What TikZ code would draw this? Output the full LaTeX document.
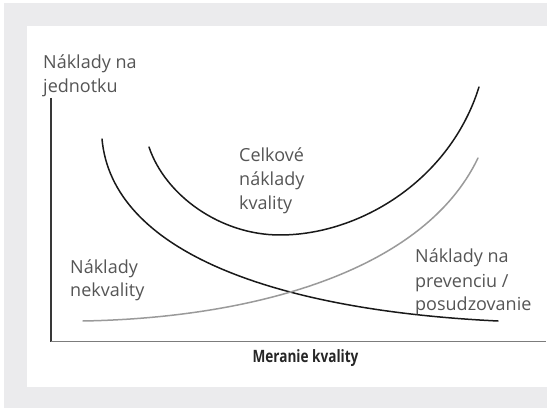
\documentclass[tikz,border=0pt]{standalone}
\usepackage{fontspec}
\setmainfont{Open Sans}
\newfontfamily\axisfont[FakeStretch=0.8]{Open Sans}
\definecolor{panelgray}{HTML}{EBEBED}
\definecolor{labelgray}{HTML}{555555}
\definecolor{curvegray}{HTML}{9A9A9A}
\definecolor{axisgray}{HTML}{7C7C7C}
\begin{document}
\begin{tikzpicture}[x=1pt,y=-1pt,
  % multi-line labels are anchored at the baseline of their last line
  label/.style={anchor=base west,inner sep=0pt,align=left,text=labelgray,
    font=\fontsize{18}{24}\selectfont},
  curveblack/.style={draw=black!90,line width=1.5pt,line cap=round},
  curvelight/.style={draw=curvegray,line width=1.5pt,line cap=round}]
  % frame: gray border with a white panel
  \useasboundingbox (0,0) rectangle (547,409);
  \fill[panelgray] (4,3) rectangle (547,408);
  \fill[white] (27,26) rectangle (547,387);

  % axes
  \coordinate (origin) at (51,341.5);
  \coordinate (ytop) at (51,98);
  \coordinate (xend) at (546,341.5);
  \draw[draw=black!78,line width=1.1pt] (ytop) -- (origin);
  \draw[draw=axisgray,line width=1.6pt] (origin) -- (xend);

  % cost of poor quality
  \coordinate (nk0) at (102,139);
  \coordinate (nk1) at (498,321);
  \draw[curveblack] (nk0) .. controls (112,250) and (270,310) .. (nk1);

  % total cost of quality
  \coordinate (tc0) at (149,147);
  \coordinate (tcmin) at (280,235);
  \coordinate (tc1) at (479,87);
  \draw[curveblack] (tc0) .. controls (165,195) and (220,235) .. (tcmin)
                          .. controls (360,235) and (450,180) .. (tc1);

  % prevention / appraisal cost
  \coordinate (pv0) at (83,321);
  \coordinate (pv1) at (478,158);
  \draw[curvelight] (pv0) .. controls (250,318) and (423,273) .. (pv1);

  % labels
  \node[label] (yl) at (43,93) {Náklady na\\jednotku};
  \node[label] (tot) at (239,210) {Celkové\\náklady\\kvality};
  \node[label] (nek) at (70,297) {Náklady\\nekvality};
  \node[label] (prev) at (415,311) {Náklady na\\prevenciu /\\posudzovanie};
  \node[anchor=base,inner sep=0pt,font=\axisfont\bfseries\fontsize{17}{20}\selectfont,text=black!85]
    (xl) at (305.5,362) {Meranie kvality};
\end{tikzpicture}
\end{document}
